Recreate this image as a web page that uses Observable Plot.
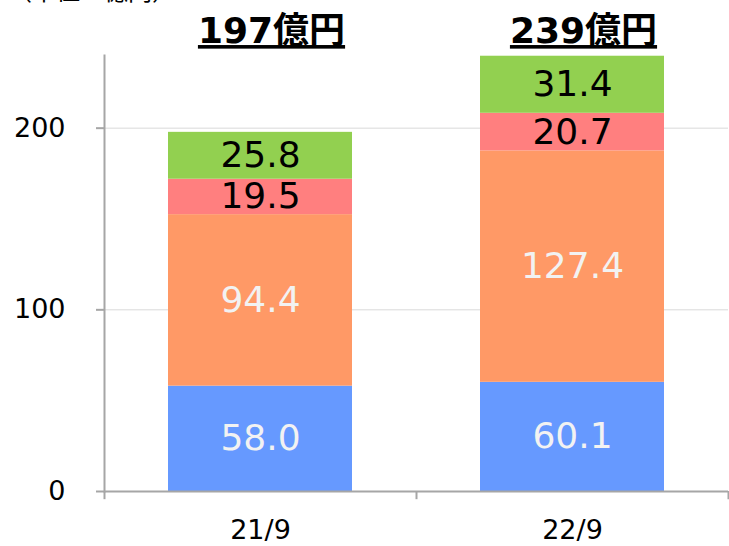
<!DOCTYPE html>
<html>
<head>
<meta charset="utf-8">
<script src="https://cdn.jsdelivr.net/npm/d3@7"></script>
<script src="https://cdn.jsdelivr.net/npm/@observablehq/plot@0.6"></script>
<style>
  html, body { margin: 0; padding: 0; background: #fff; overflow: hidden; }
  #wrap { position: relative; width: 729px; height: 546px; }
  #unit { position: absolute; left: 8px; top: -28px; font: 24px "DejaVu Sans", "Noto Sans CJK JP", sans-serif; color: #000; white-space: nowrap; }
  svg { font-family: "DejaVu Sans", "Noto Sans CJK JP", sans-serif; }
</style>
</head>
<body>
<div id="wrap"><div id="unit">（単位：億円）</div></div>
<script>
const categories = ["21/9", "22/9"];
const totals = ["197億円", "239億円"];
const blueValues = [58.0, 60.1];
const orangeValues = [94.4, 127.4];
const pinkValues = [19.5, 20.7];
const greenValues = [25.8, 31.4];
const yTicks = [0, 100, 200];

const segments = [
  {values: blueValues, color: "#6699FF", text: "#F2F2F2"},
  {values: orangeValues, color: "#FF9966", text: "#F2F2F2"},
  {values: pinkValues, color: "#FF7F7F", text: "#000000"},
  {values: greenValues, color: "#92D050", text: "#000000"}
];

const rows = categories.flatMap((c, i) =>
  segments.map((s, k) => ({cat: c, order: k, value: s.values[i], color: s.color, textColor: s.text}))
);

const axisGray = "#A6A6A6";

const chart = Plot.plot({
  width: 729,
  height: 546,
  marginLeft: 104,
  marginRight: 1,
  marginTop: 55,
  marginBottom: 55,
  x: {domain: categories, padding: 0, axis: null},
  y: {domain: [0, 240], axis: null},
  color: {type: "identity"},
  marks: [
    Plot.gridY([100, 200], {stroke: "#D9D9D9", strokeOpacity: 1, strokeWidth: 1}),
    Plot.barY(rows, Plot.stackY({x: "cat", y: "value", fill: "color", insetLeft: 64, insetRight: 64})),
    Plot.text(rows, Plot.stackY({x: "cat", y: "value", text: d => d.value.toFixed(1), fill: "textColor", fontSize: 36})),
    Plot.ruleY([0], {stroke: axisGray, strokeWidth: 2}),
    Plot.frame({anchor: "left", stroke: axisGray, strokeWidth: 2}),
    Plot.ruleX(categories, {x: d => d, dx: -156, y1: 0, y2: -4.5, stroke: axisGray, strokeWidth: 2}),
    Plot.ruleX(categories.slice(-1), {x: d => d, dx: 156, y1: 0, y2: -4.5, stroke: axisGray, strokeWidth: 2}),
    Plot.axisY(yTicks, {tickSize: 8, text: null, label: null, stroke: axisGray, strokeWidth: 2}),
    Plot.axisY(yTicks, {tickSize: 0, tickPadding: 39, fontSize: 27, fill: "#000", label: null}),
    Plot.text(categories, {x: d => d, frameAnchor: "bottom", dy: 39, lineAnchor: "middle", text: d => d, fontSize: 27, fill: "#000"}),
    Plot.text(categories, {x: d => d, frameAnchor: "top", dy: -24, dx: 11, lineAnchor: "middle", text: (d, i) => totals[i], fontSize: 36, fontWeight: "bold", fill: "#000", className: "total-label"})
  ]
});

d3.select(chart).selectAll(".total-label text").style("text-decoration", "underline");
document.getElementById("wrap").appendChild(chart);
</script>
</body>
</html>
